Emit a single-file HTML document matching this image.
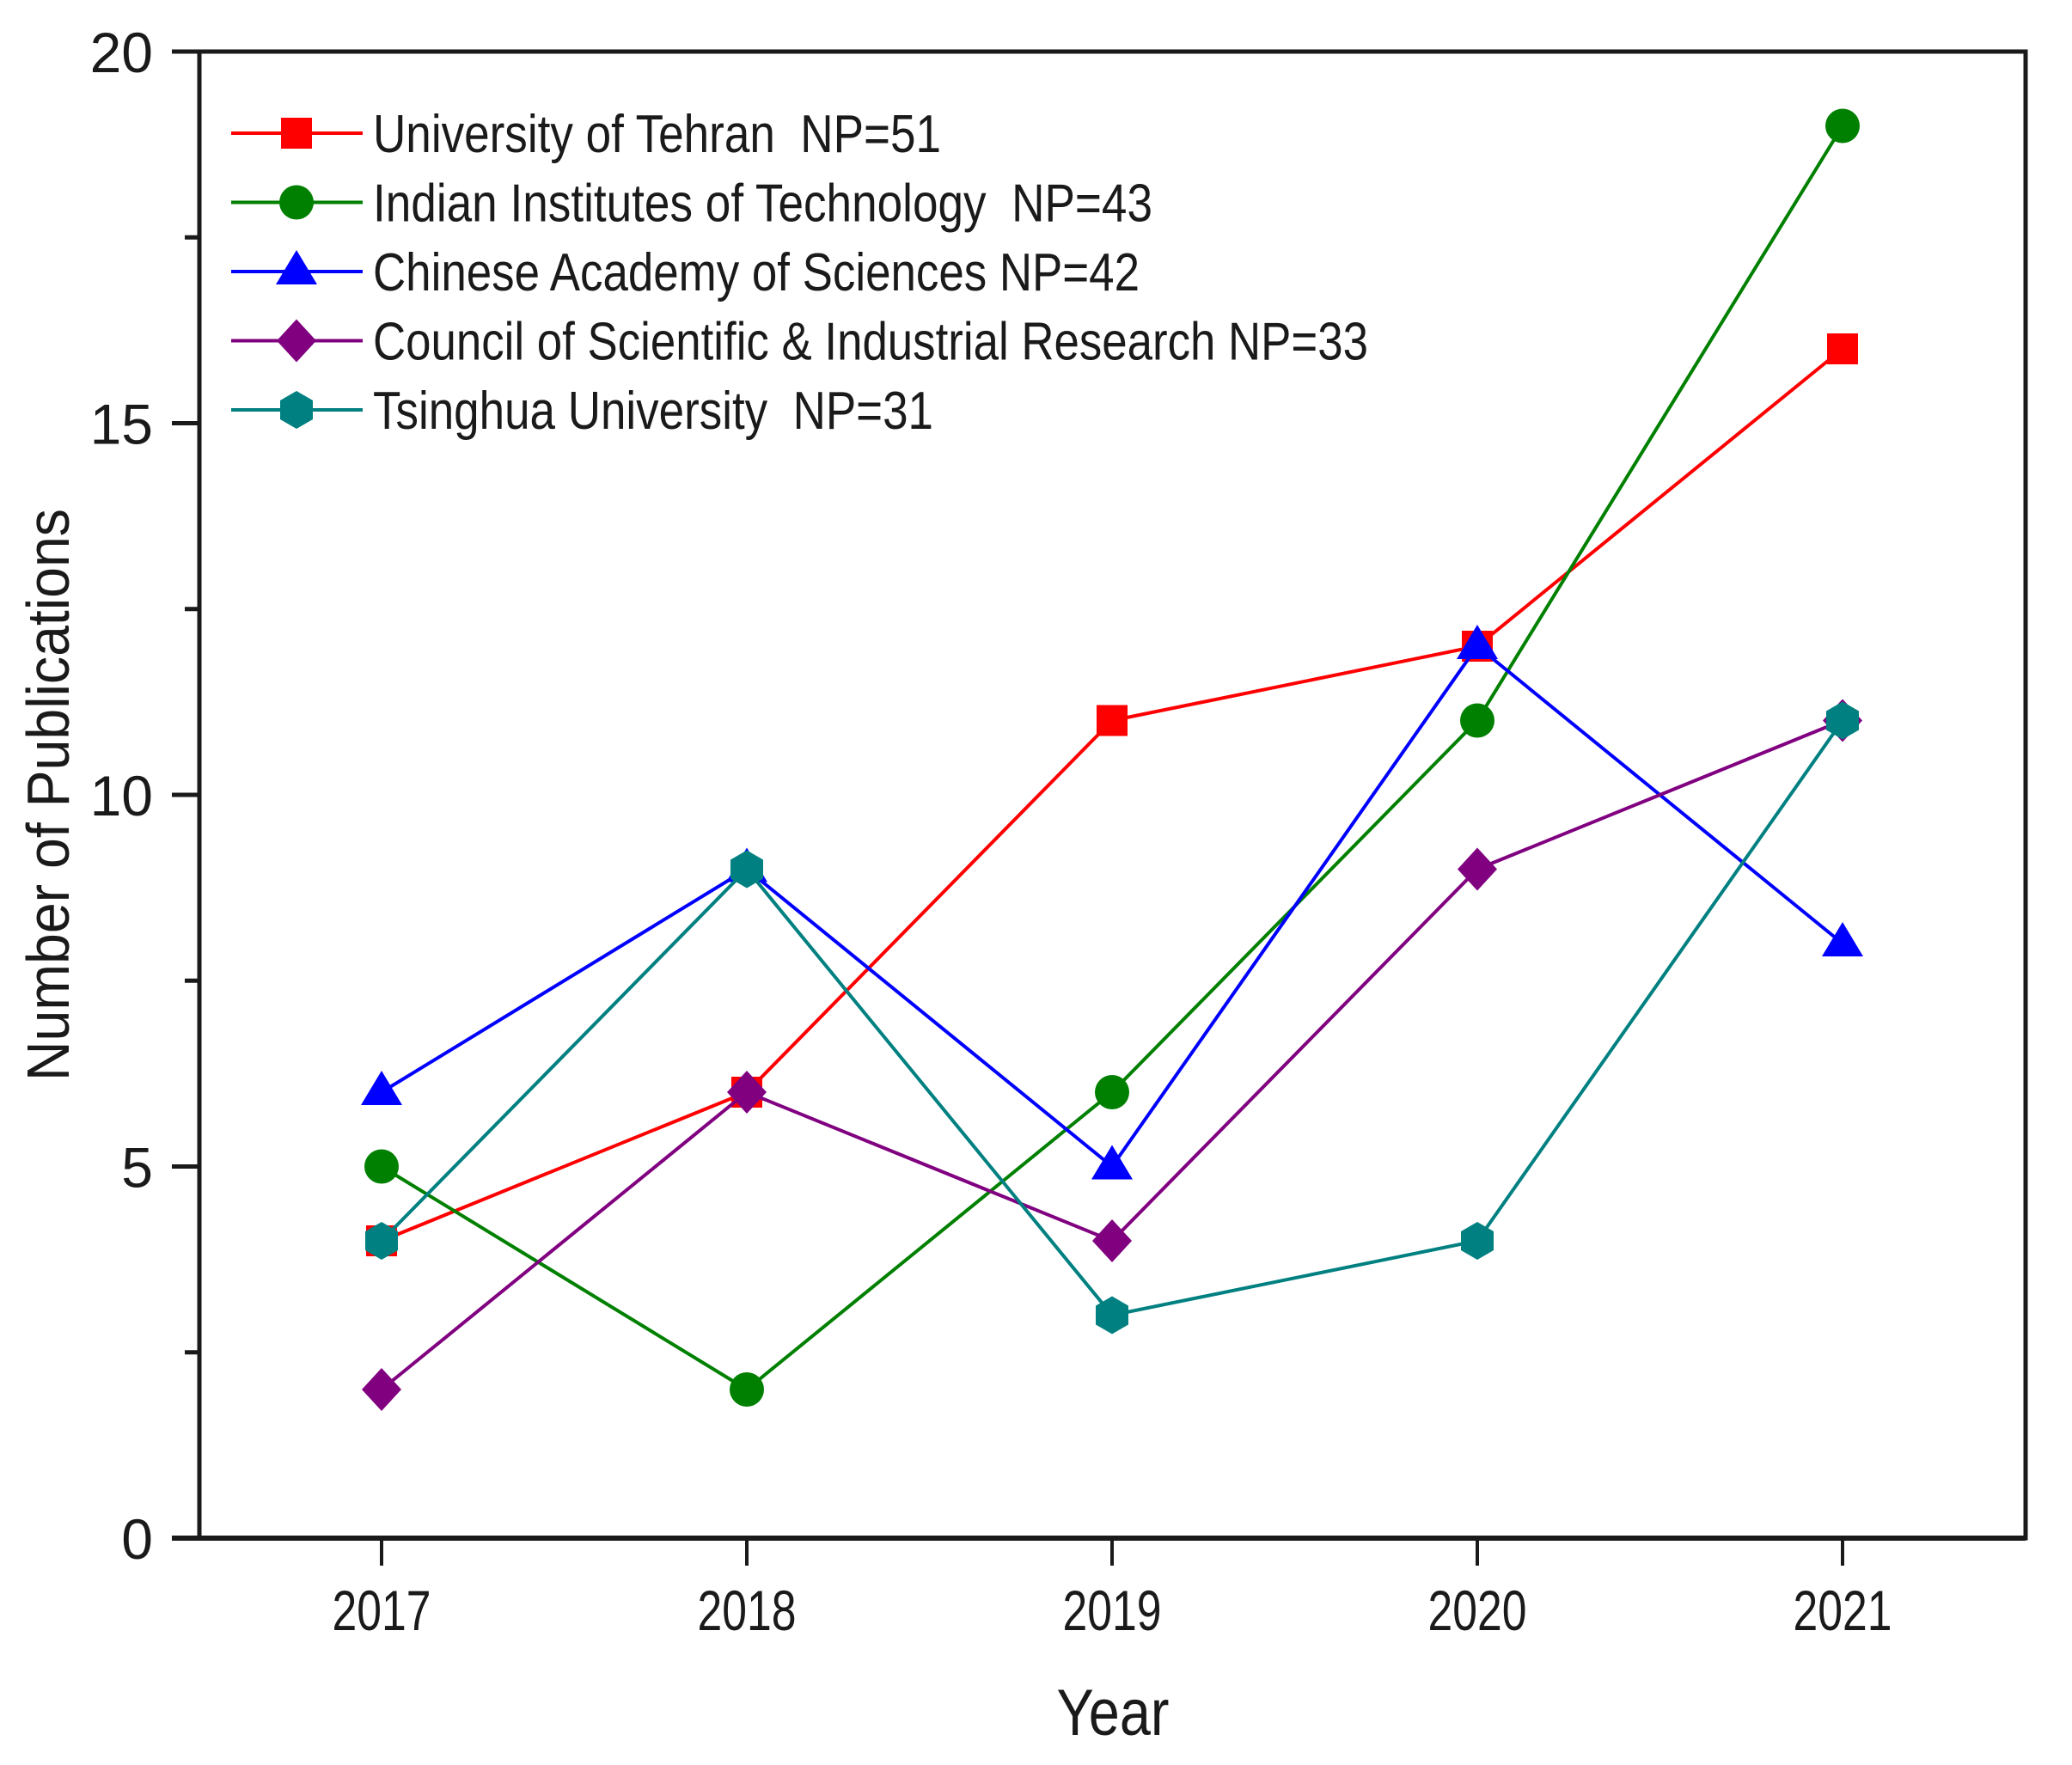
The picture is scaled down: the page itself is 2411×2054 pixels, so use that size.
<!DOCTYPE html>
<html><head><meta charset="utf-8"><style>
html,body{margin:0;padding:0;background:#fff;width:2411px;height:2054px;overflow:hidden}
svg text{font-family:"Liberation Sans",Arial,sans-serif;fill:#1a1a1a;white-space:pre}
</style></head><body>
<svg id="chart" width="2411" height="2054" viewBox="0 0 2411 2054" xmlns="http://www.w3.org/2000/svg">
<g id="axes"></g>
<g id="series"></g>
<g id="legend"></g>
<text transform="translate(80,925) rotate(-90)" text-anchor="middle" font-size="70" textLength="666" lengthAdjust="spacingAndGlyphs">Number of Publications</text>
<text x="1295" y="2019" text-anchor="middle" font-size="76" textLength="131" lengthAdjust="spacingAndGlyphs">Year</text>
</svg>
<script>
const years = [2017, 2018, 2019, 2020, 2021];
const yTicks = [0, 5, 10, 15, 20];
const tehran = [4, 6, 11, 12, 16];
const iit = [5, 2, 6, 11, 19];
const cas = [6, 9, 5, 12, 8];
const csir = [2, 6, 4, 9, 11];
const tsinghua = [4, 9, 3, 4, 11];
const seriesNames = ["University of Tehran  NP=51","Indian Institutes of Technology  NP=43","Chinese Academy of Sciences NP=42","Council of Scientific & Industrial Research NP=33","Tsinghua University  NP=31"];
const NS = "http://www.w3.org/2000/svg";
const X0 = 232, X1 = 2357, Y0 = 1790, Y1 = 60;
function xs(yr){ return 444 + (yr - 2017) * 425; }
function ys(v){ return Y0 - v * (Y0 - Y1) / 20; }
function mk(tag, attrs, parent){ const e = document.createElementNS(NS, tag); for (const k in attrs) e.setAttribute(k, attrs[k]); parent.appendChild(e); return e; }
const axes = document.getElementById('axes');
let e;
e = mk('rect', {x:X0, y:Y1, width:X1-X0, height:Y0-Y1, fill:'none', stroke:'#1a1a1a', 'stroke-width':5}, axes);


e = mk('line', {x1:200, y1:Y0, x2:X1, y2:Y0, stroke:'#1a1a1a', 'stroke-width':6}, axes);


e = mk('line', {x1:200, y1:Y1, x2:X0, y2:Y1, stroke:'#1a1a1a', 'stroke-width':5}, axes);


yTicks.forEach(v => {
  const y = ys(v);
  const t = mk('line', {x1:200, y1:y, x2:X0, y2:y, stroke:'#1a1a1a', 'stroke-width':5}, axes);
  
  
  const l = mk('text', {x:178, y:y+24, 'text-anchor':'end', 'font-size':66}, axes);
  l.textContent = v;
  
  
  if (v < 20) {
    const m = mk('line', {x1:215, y1:ys(v+2.5), x2:X0, y2:ys(v+2.5), stroke:'#1a1a1a', 'stroke-width':5}, axes);
    
    
  }
});
years.forEach(yr => {
  const x = xs(yr);
  const t = mk('line', {x1:x, y1:Y0, x2:x, y2:1822, stroke:'#1a1a1a', 'stroke-width':4}, axes);
  
  
  const l = mk('text', {x:x, y:1897, 'text-anchor':'middle', 'font-size':66, textLength:115, lengthAdjust:'spacingAndGlyphs'}, axes);
  l.textContent = yr;
  
  
});
function marker(kind, cx, cy, color, parent){
  let m;
  if (kind === 'square') m = mk('rect', {x:cx-18, y:cy-18, width:36, height:36, fill:color}, parent);
  else if (kind === 'circle') m = mk('circle', {cx:cx, cy:cy, r:20, fill:color}, parent);
  else if (kind === 'triangle') m = mk('polygon', {points:`${cx},${cy-25} ${cx+24},${cy+15} ${cx-24},${cy+15}`, fill:color}, parent);
  else if (kind === 'diamond') m = mk('polygon', {points:`${cx},${cy-25} ${cx+23},${cy} ${cx},${cy+25} ${cx-23},${cy}`, fill:color}, parent);
  else m = mk('polygon', {points:`${cx},${cy-22} ${cx+19},${cy-11} ${cx+19},${cy+11} ${cx},${cy+22} ${cx-19},${cy+11} ${cx-19},${cy-11}`, fill:color}, parent);
  return m;
}
const allSeries = [tehran, iit, cas, csir, tsinghua];
const colors = ['#ff0000','#008000','#0000ff','#800080','#008080'];
const kinds = ['square','circle','triangle','diamond','hexagon'];
const keys = ['tehran','iit','cas','csir','tsinghua'];
const sg = document.getElementById('series');
allSeries.forEach((vals, i) => {
  const g = mk('g', {}, sg);
  
  
  const p = mk('polyline', {points: vals.map((v,j)=>xs(years[j])+','+ys(v)).join(' '), fill:'none', stroke:colors[i], 'stroke-width':4}, g);
  
  
  vals.forEach((v,j) => {
    const m = marker(kinds[i], xs(years[j]), ys(v), colors[i], g);
    
    
  });
});
const lg = document.getElementById('legend');
const textEnds = [1095, 1341, 1326, 1592, 1086];
seriesNames.forEach((name, i) => {
  const y = 155 + i * 80.5;
  const g = mk('g', {}, lg);
  
  
  mk('line', {x1:269, y1:y, x2:422, y2:y, stroke:colors[i], 'stroke-width':4}, g);
  marker(kinds[i], 345, y, colors[i], g);
  const t = mk('text', {x:434, y:y+22, 'font-size':62, textLength:textEnds[i]-434, lengthAdjust:'spacingAndGlyphs'}, g);
  t.textContent = name;
  
  
});
</script>
</body></html>
